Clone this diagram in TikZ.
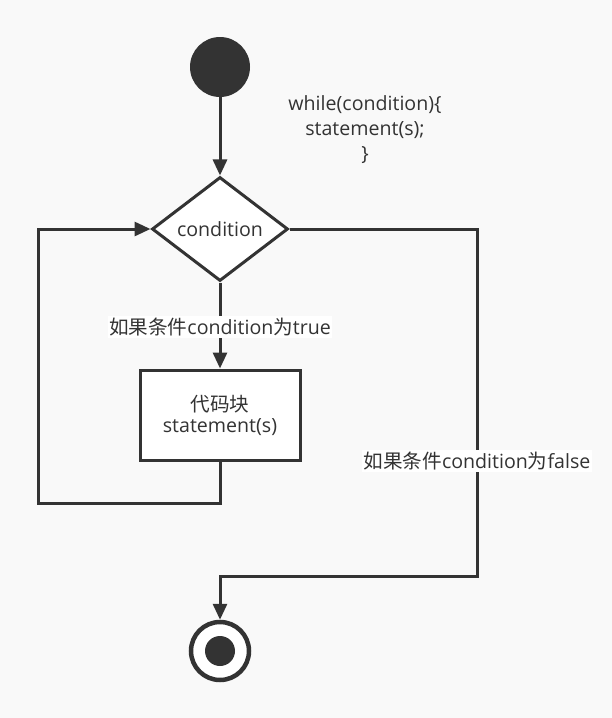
\documentclass[tikz,border=0pt]{standalone}
\usepackage{fontspec}
\setmainfont{Open Sans}
\newfontfamily\cjk{Noto Sans CJK SC}
\usetikzlibrary{shapes.geometric,arrows.meta}
\definecolor{ink}{HTML}{333333}
\definecolor{paper}{HTML}{F9F9F9}
\begin{document}
\begin{tikzpicture}[
    x=1pt, y=-1pt,
    font=\fontsize{19.6}{25}\selectfont,
    every node/.style={text=ink},
    flow/.style={draw=ink, line width=3pt, -{Triangle[length=16pt,width=14pt]}},
    wire/.style={draw=ink, line width=3pt},
    decision/.style={diamond, draw=ink, line width=3pt, fill=white, minimum width=136pt, minimum height=104pt, inner sep=0pt},
    block/.style={rectangle, draw=ink, line width=3pt, fill=white, minimum width=160pt, minimum height=90pt, align=center, font=\fontsize{19.6}{22}\selectfont},
    tag/.style={fill=white, inner sep=1.5pt}
]
    \fill[paper] (0,0) rectangle (612,718);
    \useasboundingbox (0,0) rectangle (612,718);

    % Start and condition
    \node[circle, fill=ink, minimum size=60pt, inner sep=0pt] (start) at (220,67) {};
    \node[decision] (cond) at (220,229) {condition};
    \node[align=center] (code) at (365,130) {while(condition)\{\\statement(s);\\\}};
    \draw[flow] (start) -- (cond);

    % True branch
    \node[block] (body) at (220,415) {{\cjk 代码块}\\[-1pt]statement(s)};
    \draw[flow] (cond) -- (body);
    \node[tag] (yes) at (220,327) {{\cjk 如果条件}condition{\cjk 为}true};

    % Loop back
    \coordinate (b1) at (220,503);
    \coordinate (b2) at (38,503);
    \coordinate (b3) at (38,229);
    \draw[flow] (body.south) -- (b1) -- (b2) -- (b3) -- (cond.west);

    % False branch
    \node[circle, draw=ink, line width=4.5pt, fill=white, minimum size=58pt, inner sep=0pt] (stop) at (220,651) {};
    \node[circle, fill=ink, minimum size=30pt, inner sep=0pt] (dot) at (stop) {};
    \coordinate (f1) at (477,229);
    \coordinate (f2) at (477,576);
    \coordinate (f3) at (220,576);
    \draw[flow] (cond.east) -- (f1) -- (f2) -- (f3) -- (stop.north);
    \node[tag] (no) at (477,461) {{\cjk 如果条件}condition{\cjk 为}false};
\end{tikzpicture}
\end{document}
